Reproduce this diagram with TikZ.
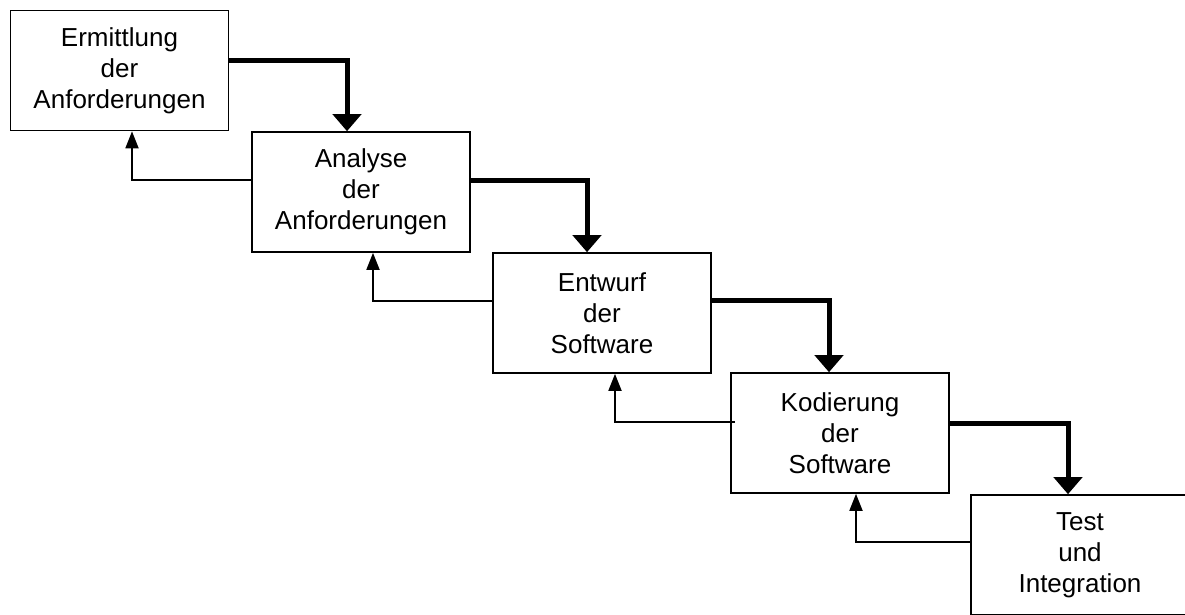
\documentclass[tikz,border=0pt]{standalone}
\usepackage{fontspec}
\setmainfont{Liberation Sans}
\usetikzlibrary{arrows.meta}

\tikzset{
  phase/.style={draw=black, line width=1.6pt, minimum width=218pt, minimum height=120pt,
    inner sep=0pt, align=center, font=\fontsize{26}{31}\selectfont},
  forward/.style={line width=5pt, -{Triangle[width=28pt,length=17pt]}},
  backward/.style={line width=1.8pt, -{Triangle[width=13pt,length=17pt]}}
}

\begin{document}
\begin{tikzpicture}[x=1pt, y=-1pt]
  \clip (0,0) rectangle (1185,614);
  \fill[white] (0,0) rectangle (1185,614);

  % phases of the waterfall model
  \node[phase] (b1) at (119.5,70.5) {Ermittlung\\der\\Anforderungen};
  \node[phase] (b2) at (361,192) {Analyse\\der\\Anforderungen};
  \node[phase] (b3) at (602,313) {Entwurf\\der\\Software};
  \node[phase] (b4) at (840,433) {Kodierung\\der\\Software};
  \node[phase] (b5) at (1080,555) {Test\\und\\Integration};

  % forward flow to the next phase
  \draw[forward] ([yshift=10pt]b1.east) -| ([xshift=-14pt]b2.north);
  \draw[forward] ([yshift=12pt]b2.east) -| ([xshift=-15pt]b3.north);
  \draw[forward] ([yshift=13pt]b3.east) -| ([xshift=-11pt]b4.north);
  \draw[forward] ([yshift=10pt]b4.east) -| ([xshift=-12pt]b5.north);

  % feedback to the previous phase
  \draw[backward] ([yshift=12pt]b2.west) -| ([xshift=12.5pt]b1.south);
  \draw[backward] ([yshift=12pt]b3.west) -| ([xshift=12pt]b2.south);
  \coordinate (k4) at ([xshift=5pt,yshift=11pt]b4.west);
  \draw[backward] (k4) -| ([xshift=13pt]b3.south);
  \draw[backward] ([yshift=13pt]b5.west) -| ([xshift=16pt]b4.south);
\end{tikzpicture}
\end{document}
